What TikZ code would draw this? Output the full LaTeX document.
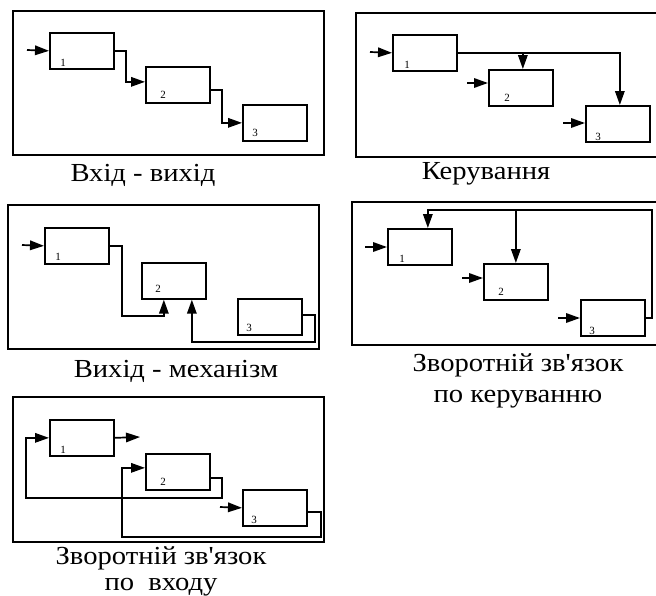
\documentclass[tikz,border=0pt]{standalone}
\usepackage{fontspec}
\setmainfont{Liberation Serif}
\usetikzlibrary{arrows.meta,positioning}

\begin{document}
\begin{tikzpicture}[x=1pt,y=-1pt,
  blk/.style={draw,line width=1.7pt,anchor=north west,minimum width=64pt,minimum height=36pt,inner sep=0pt},
  num/.style={font=\fontsize{11}{11}\selectfont,inner sep=0pt},
  captext/.style={font=\fontsize{26}{26}\selectfont,anchor=base,inner sep=0pt,xscale=1.1},
  frm/.style={line width=2pt},
  arr/.style={line width=1.7pt,-{Triangle[length=14pt,width=9.5pt]}}]
\useasboundingbox (0,0) rectangle (656,595);

% --- Вхід - вихід ---
\draw[frm] (13,11) rectangle (324,155);
\node[blk] (a1) at (49,32) {};
\node[blk] (a2) at (145,66) {};
\node[blk] (a3) at (242,104) {};
\node[num] (a1n) at (63,63) {1};
\node[num] (a2n) at (163,95) {2};
\node[num] (a3n) at (255,133) {3};
\coordinate (a0) at (27,50);
\draw[arr] (a0) -- (a1.west);
\draw[arr] (a1.east) -- ++(11,0) |- ([yshift=3pt]a2.west);
\draw[arr] ([yshift=-5pt]a2.east) -- ++(11,0) |- (a3.west);
\node[captext] (acap) at (143,181) {Вхід - вихід};

% --- Керування ---
\draw[frm] (356,13) rectangle (660,157);
\node[blk] (b1) at (392,34) {};
\node[blk] (b2) at (488,69) {};
\node[blk] (b3) at (585,105) {};
\node[num] (b1n) at (407,65) {1};
\node[num] (b2n) at (507,98) {2};
\node[num] (b3n) at (598,137) {3};
\coordinate (b1i) at (370,52);
\coordinate (b2i) at (467,83);
\coordinate (b3i) at (563,123);
\draw[arr] (b1i) -- (b1.west);
\draw[arr] (b2i) -- (b2i -| b2.west);
\draw[arr] (b3i) -- (b3i -| b3.west);
\draw[arr] (b1.east) -| ([xshift=2pt]b3.north);
\draw[arr] ([xshift=2pt]b1.east -| b2.north) -- ([xshift=2pt]b2.north);
\node[captext] (bcap) at (486,179) {Керування};

% --- Вихід - механізм ---
\draw[frm] (8,205) rectangle (319,349);
\node[blk] (c1) at (44,227) {};
\node[blk] (c2) at (141,262) {};
\node[blk] (c3) at (237,298) {};
\node[num] (c1n) at (58,257) {1};
\node[num] (c2n) at (158,289) {2};
\node[num] (c3n) at (249,328) {3};
\coordinate (c0) at (22,245);
\draw[arr] (c0) -- (c1.west);
\draw[arr] (c1.east) -- ++(12,0) -- ++(0,70) -| ([xshift=-10pt]c2.south);
\draw[arr] ([yshift=2pt]c3.east) -- ++(12,0) -- ++(0,27) -| ([xshift=18pt]c2.south);
\node[captext] (ccap) at (176,377) {Вихід - механізм};

% --- Зворотній зв'язок по керуванню ---
\draw[frm] (352,202) rectangle (660,345);
\node[blk] (d1) at (387,228) {};
\node[blk] (d2) at (483,263) {};
\node[blk] (d3) at (580,299) {};
\node[num] (d1n) at (402,259) {1};
\node[num] (d2n) at (501,292) {2};
\node[num] (d3n) at (592,331) {3};
\coordinate (d1i) at (365,247);
\coordinate (d2i) at (462,278);
\coordinate (d3i) at (558,318);
\coordinate (d4) at (652,210);
\draw[arr] (d1i) -- (d1i -| d1.west);
\draw[arr] (d2i) -- (d2i -| d2.west);
\draw[arr] (d3i) -- (d3i -| d3.west);
\draw[arr] (d3.east) -| (d4) -| ([xshift=8pt]d1.north);
\draw[arr] (d4 -| d2.north) -- (d2.north);
\node[captext] (dcap) at (518,371) {Зворотній зв\textquotesingle язок};
\node[captext] (dcap2) at (518,402) {по керуванню};

% --- Зворотній зв'язок по входу ---
\draw[frm] (13,397) rectangle (324,542);
\node[blk] (e1) at (49,419) {};
\node[blk] (e2) at (145,453) {};
\node[blk] (e3) at (242,489) {};
\node[num] (e1n) at (63,450) {1};
\node[num] (e2n) at (163,482) {2};
\node[num] (e3n) at (254,520) {3};
\coordinate (e0) at (140,437);
\coordinate (e3i) at (220,507);
\draw[arr] (e1.east) -- (e0);
\draw[arr] (e3i) -- (e3.west);
\draw[arr] ([yshift=-6pt]e2.east) -- ++(11,0) -- ++(0,20) -- ++(-196,0) |- (e1.west);
\draw[arr] ([yshift=-4pt]e3.east) -- ++(13,0) -- ++(0,25) -- ++(-199,0) |- ([yshift=4pt]e2.west);
\node[captext] (ecap) at (161,564) {Зворотній зв\textquotesingle язок};
\node[captext] (ecap2) at (161,590) {по\ \ входу};
\end{tikzpicture}
\end{document}
